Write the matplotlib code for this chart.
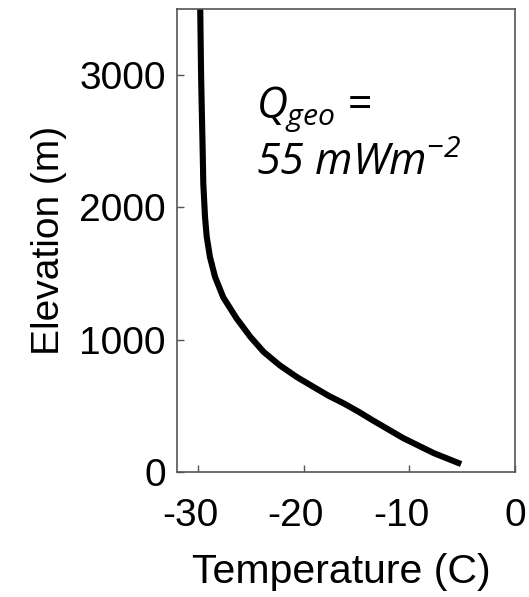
import matplotlib
matplotlib.use("Agg")
import matplotlib.pyplot as plt
from matplotlib.transforms import ScaledTranslation

# Temperature profile
elevation = [3500, 3000, 2800, 2430, 2180, 1930, 1780, 1625, 1475, 1320, 1160,
             1021, 908, 808, 719, 644, 574, 518, 455, 392, 257, 143, 60]
temperature = [-29.8, -29.72, -29.67, -29.57, -29.51, -29.35, -29.19, -28.88,
               -28.4, -27.62, -26.35, -25.05, -23.8, -22.3, -20.68, -19.1,
               -17.6, -16.2, -14.8, -13.5, -10.6, -7.7, -5.1]
x_ticks = [-30, -20, -10, 0]
x_labels = ["-30", "-20", "-10", "0"]
y_ticks = [0, 1000, 2000, 3000]

plt.rcParams['font.family'] = ['Liberation Sans', 'DejaVu Sans']
plt.rcParams['axes.unicode_minus'] = False
plt.rcParams['mathtext.fontset'] = 'custom'
plt.rcParams['mathtext.it'] = 'Open Sans:italic'
plt.rcParams['mathtext.rm'] = 'Open Sans:italic'

fig = plt.figure(figsize=(5.29, 5.97), dpi=100)
ax = fig.add_axes([0.3346, 0.2094, 0.6389, 0.7756])

ax.plot(temperature, elevation, color='black', lw=4.4,
        solid_capstyle='butt', solid_joinstyle='round')

ax.set_xlim(-32, 0)
ax.set_ylim(0, 3500)
ax.set_xticks(x_ticks)
ax.set_xticklabels(x_labels)
ax.set_yticks(y_ticks)
ax.tick_params(direction='in', length=5, width=1, color='#555555',
               labelsize=28, pad=8)
ax.tick_params(axis='x', pad=19)
for s in ax.spines.values():
    s.set_color('#555555')
    s.set_linewidth(1.2)

# negative labels sit a little left of their ticks in the original
shift = ScaledTranslation(-8 / 100, 0, fig.dpi_scale_trans)
for lbl in ax.get_xticklabels():
    if lbl.get_text().startswith("-"):
        lbl.set_transform(lbl.get_transform() + shift)

ax.set_xlabel("Temperature (C)", fontsize=29.5, labelpad=14)
ax.xaxis.set_label_coords(0.485, -0.175)
ax.set_ylabel("Elevation (m)", fontsize=28, labelpad=9)

ax.text(-24.5, 2680, r"$Q_{geo}$ =", fontsize=31, fontfamily='Open Sans',
        style='italic', va='baseline')
ax.text(-24.5, 2242, r"55 mWm$^{\mathrm{-2}}$", fontsize=31,
        fontfamily='Open Sans', style='italic', va='baseline')

fig.savefig("out.png", dpi=100)
